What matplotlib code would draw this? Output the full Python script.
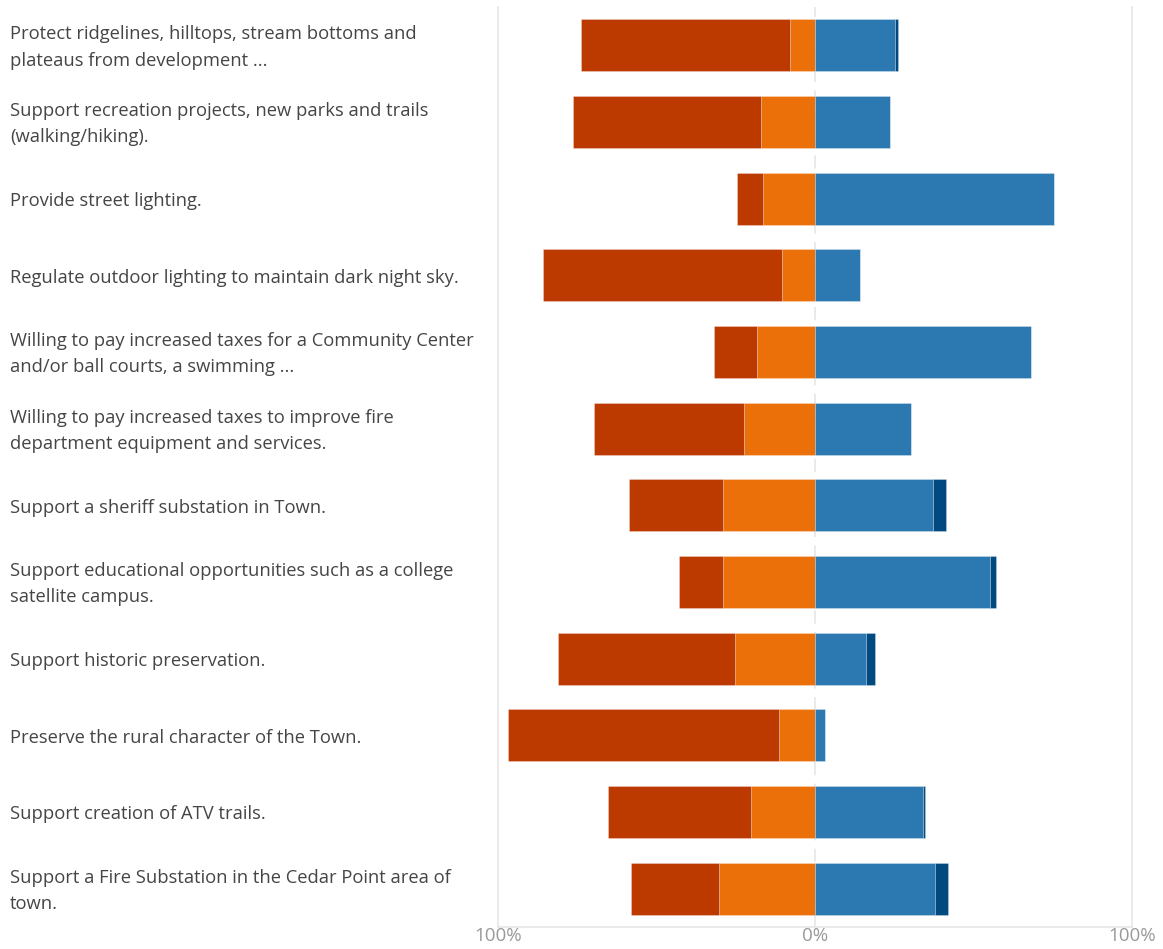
import numpy as np
from matplotlib import pyplot as plt
from matplotlib import transforms as mtrans

# Survey statements, top to bottom
labels = [
    'Protect ridgelines, hilltops, stream bottoms and\nplateaus from development ...',
    'Support recreation projects, new parks and trails\n(walking/hiking).',
    'Provide street lighting.',
    'Regulate outdoor lighting to maintain dark night sky.',
    'Willing to pay increased taxes for a Community Center\nand/or ball courts, a swimming ...',
    'Willing to pay increased taxes to improve fire\ndepartment equipment and services.',
    'Support a sheriff substation in Town.',
    'Support educational opportunities such as a college\nsatellite campus.',
    'Support historic preservation.',
    'Preserve the rural character of the Town.',
    'Support creation of ATV trails.',
    'Support a Fire Substation in the Cedar Point area of\ntown.',
]

# percent of responses per answer
strongly_disagree = [65.7, 59.4, 8.4, 75.6, 13.6, 47.2, 29.7, 14.1, 55.8, 85.6, 45.1, 27.6]
disagree          = [8.0, 17.0, 16.3, 10.3, 18.2, 22.4, 28.9, 28.9, 25.2, 11.2, 20.2, 30.4]
agree             = [25.2, 23.6, 75.3, 14.1, 68.2, 30.4, 37.3, 55.3, 16.1, 3.2, 34.1, 37.9]
strongly_agree    = [1.1, 0.0, 0.0, 0.0, 0.0, 0.0, 4.1, 1.7, 2.9, 0.0, 0.6, 4.1]

tick_vals = [-100, 0, 100]
tick_labels = ['100%', '0%', '100%']

c_sd = '#bc3a00'
c_d = '#eb700a'
c_a = '#2b79b0'
c_sa = '#004a80'

fig = plt.figure(figsize=(11.63, 9.49), dpi=100)
ax = fig.add_axes([498 / 1163, 22 / 949, 634 / 1163, 920 / 949])

y = np.arange(len(labels))
sd = np.array(strongly_disagree)
d = np.array(disagree)
a = np.array(agree)
sa = np.array(strongly_agree)

edge = (1, 1, 1, 0.3)
h = 0.68
ax.barh(y, -d, height=h, color=c_d, edgecolor=edge, linewidth=0.6, zorder=3)
ax.barh(y, -sd, left=-d, height=h, color=c_sd, edgecolor=edge, linewidth=0.6, zorder=3)
ax.barh(y, a, height=h, color=c_a, edgecolor=edge, linewidth=0.6, zorder=3)
ax.barh(y, sa, left=a, height=h, color=c_sa, edgecolor=edge, linewidth=0.6, zorder=3)

ax.set_xlim(-100, 100)
ax.set_ylim(len(labels) - 0.5, -0.5)

# grid lines
ax.axvline(0, color='#e6e6e6', lw=1.2, ls=(0, (8, 5)), zorder=1)
ax.spines['top'].set_visible(False)
for s in ['left', 'right', 'bottom']:
    ax.spines[s].set_color('#e6e6e6')
    ax.spines[s].set_linewidth(1.2)

ax.set_yticks([])
ax.set_xticks(tick_vals)
ax.set_xticklabels(tick_labels, fontsize=13.5, color='#999999', family='Open Sans')
ax.tick_params(axis='x', length=0, pad=0)

# statement labels on the left
tr = mtrans.blended_transform_factory(fig.transFigure, ax.transData)
for i, lab in enumerate(labels):
    ax.text(10 / 1163, i + 0.03, lab, transform=tr, ha='left', va='center',
            fontsize=13.2, color='#454545', family='Open Sans', linespacing=1.6)

plt.savefig('out.png', dpi=100)
